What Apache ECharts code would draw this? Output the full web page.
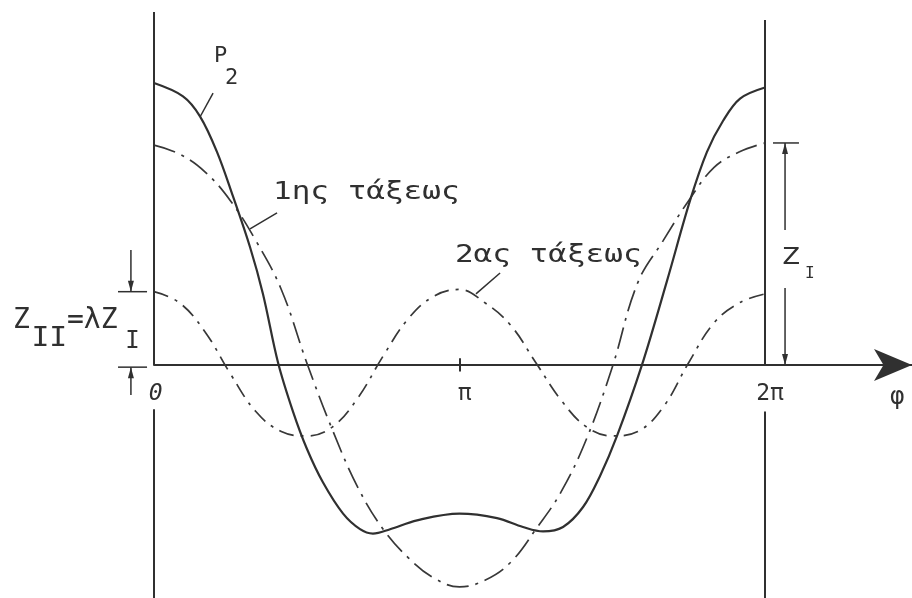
<!DOCTYPE html>
<html>
<head>
<meta charset="utf-8">
<script src="https://cdn.jsdelivr.net/npm/echarts/dist/echarts.min.js"></script>
<style>
  html, body { margin: 0; padding: 0; background: #ffffff; }
  #chart { width: 912px; height: 598px; }
</style>
</head>
<body>
<div id="chart"></div>
<script>
// Phase angle φ in degrees for the two harmonic components, one sample every 15°
const phi = [0, 15, 30, 45, 60, 75, 90, 105, 120, 135, 150, 165, 180,
             195, 210, 225, 240, 255, 270, 285, 300, 315, 330, 345, 360];

// First-order component (amplitude Z_I = 1)
const firstOrder = [0.99, 0.95, 0.87, 0.74, 0.56, 0.34, 0.01, -0.29, -0.55, -0.74, -0.87, -0.96, -1.00,
                    -0.97, -0.89, -0.74, -0.57, -0.33, -0.01, 0.37, 0.56, 0.74, 0.89, 0.96, 1.00];

// Second-order component (amplitude Z_II = λ·Z_I)
const secondOrder = [0.33, 0.28, 0.15, -0.04, -0.21, -0.30, -0.32, -0.28, -0.15, 0.04, 0.21, 0.31, 0.34,
                     0.28, 0.18, 0.01, -0.16, -0.28, -0.32, -0.30, -0.19, 0.01, 0.19, 0.28, 0.32];

// Resulting curve P2, sampled more densely where it is steep
const phiP2 = [0, 17.1, 27.1, 37.1, 46.5, 56.6, 64.2, 73.1, 81.9, 90.2, 99.6, 111.4, 121.4, 129.0,
               139.1, 155.0, 180, 202.1, 217.4, 229.2, 241.0, 252.8, 262.8, 272.8, 287.5, 302.3,
               315.8, 325.8, 335.3, 345.3, 360];
const resultant = [1.27, 1.21, 1.12, 0.96, 0.76, 0.53, 0.32, 0.01, -0.21, -0.38, -0.53, -0.67, -0.74, -0.76,
                   -0.74, -0.70, -0.67, -0.69, -0.73, -0.75, -0.73, -0.64, -0.50, -0.32, 0.00, 0.38,
                   0.74, 0.96, 1.10, 1.20, 1.25];

// Tick labels along the φ axis
const tickLabels = { 0: '0', 180: 'π', 360: '2π' };

const INK = '#303030';
const FONT = '"DejaVu Sans Mono", "Liberation Mono", monospace';

const chart = echarts.init(document.getElementById('chart'), null, { renderer: 'canvas' });

const pairs = (xs, ys) => xs.map((p, i) => [p, ys[i]]);

chart.setOption({
  animation: false,
  backgroundColor: '#ffffff',
  grid: { left: 154, right: 0, top: 12, bottom: 0, containLabel: false, outerBoundsMode: 'none' },
  xAxis: {
    type: 'value', min: 0, max: 446.6, interval: 90,
    axisLine: { onZero: true, symbol: ['none', 'arrow'], symbolSize: [24, 38],
                lineStyle: { color: INK, width: 2 } },
    axisTick: { show: false },
    splitLine: { show: false },
    axisLabel: { show: false }
  },
  yAxis: {
    type: 'value', min: -1.05, max: 1.59,
    axisLine: { show: false }, axisTick: { show: false },
    axisLabel: { show: false }, splitLine: { show: false }
  },
  series: [
    {
      name: 'P2', type: 'line', data: pairs(phiP2, resultant), smooth: 0.35,
      symbol: 'none', z: 4,
      lineStyle: { color: INK, width: 2.2 },
      markLine: {
        silent: true, symbol: 'none', label: { show: false },
        lineStyle: { type: 'solid', color: INK, width: 2 },
        data: [
          [{ coord: [0, 1.59] }, { coord: [0, 0] }],
          [{ coord: [0, -0.2] }, { coord: [0, -1.05] }],
          [{ coord: [360, 1.554] }, { coord: [360, 0] }],
          [{ coord: [360, -0.21] }, { coord: [360, -1.05] }],
          [{ coord: [180, 0.03] }, { coord: [180, -0.03] }]
        ]
      }
    },
    {
      name: '1ης τάξεως', type: 'line', data: pairs(phi, firstOrder), smooth: 0.4,
      symbol: 'none', z: 3,
      lineStyle: { color: '#383838', width: 1.7, type: [22, 7, 3, 7] }
    },
    {
      name: '2ας τάξεως', type: 'line', data: pairs(phi, secondOrder), smooth: 0.4,
      symbol: 'none', z: 3,
      lineStyle: { color: '#383838', width: 1.7, type: [15, 7, 3, 7] }
    }
  ]
});

// Annotations: leaders, dimension arrows and lettering, placed in data units
const P = (x, y) => chart.convertToPixel({ gridIndex: 0 }, [x, y]);
const ann = [];

function seg(a, b, w) {
  const p = P(a[0], a[1]), q = P(b[0], b[1]);
  ann.push({ type: 'line', silent: true, z: 10,
    shape: { x1: p[0], y1: p[1], x2: q[0], y2: q[1] },
    style: { stroke: INK, lineWidth: w || 1.5 } });
}
function head(at, dir) {          // dir = 1 points down, -1 points up
  const t = P(at[0], at[1]);
  ann.push({ type: 'polygon', silent: true, z: 10,
    shape: { points: [[t[0], t[1]], [t[0] - 3, t[1] - dir * 11], [t[0] + 3, t[1] - dir * 11]] },
    style: { fill: INK } });
}
function label(text, at, size, sx, align, italic) {
  const p = P(at[0], at[1]);
  ann.push({ type: 'text', silent: true, z: 10, x: p[0], y: p[1], scaleX: sx || 1,
    style: { text: text, fill: INK, font: (italic ? 'italic ' : '') + size + 'px ' + FONT,
             align: align || 'left', verticalAlign: 'middle' } });
}

// Leaders to the curves
seg([34.8, 1.225], [27.1, 1.117]);
seg([72.5, 0.685], [56.6, 0.613]);
seg([203.9, 0.414], [189.7, 0.320]);

// Z_I dimension at 2π
const zTop = firstOrder[firstOrder.length - 1];
seg([364.7, zTop], [380, zTop]);
seg([371.8, zTop], [371.8, 0.608]);
head([371.8, zTop], -1);
seg([371.8, 0.347], [371.8, 0]);
head([371.8, 0], 1);

// Z_II = λ·Z_I dimension at 0
const lam = secondOrder[0];
seg([-21.2, lam], [-4.1, lam]);
seg([-21.2, -0.01], [-4.1, -0.01]);
seg([-13.6, 0.518], [-13.6, lam]);
head([-13.6, lam], 1);
seg([-13.6, -0.01], [-13.6, -0.135]);
head([-13.6, -0.01], -1);

// Tick labels on the φ axis
Object.keys(tickLabels).forEach(k => {
  const v = Number(k);
  label(tickLabels[k], [v + (v === 0 ? 1 : 3), -0.13], 23, 1, 'center', v === 0);
});

// Lettering
label('P', [35.4, 1.392], 22);
label('2', [41.8, 1.29], 22);
label('1ης τάξεως', [70.1, 0.779], 25, 1.24);
label('2ας τάξεως', [177.3, 0.495], 25, 1.24);
label('Z', [369.5, 0.48], 23, 1.35);
label('I', [383.6, 0.41], 16);
label('Z', [-83.1, 0.198], 28);
label('II', [-72.2, 0.115], 27, 1.1);
label('=λZ', [-51.3, 0.198], 28);
label('I', [-17.0, 0.105], 24);
label('φ', [433.7, -0.149], 24);

chart.setOption({ graphic: ann });
</script>
</body>
</html>
